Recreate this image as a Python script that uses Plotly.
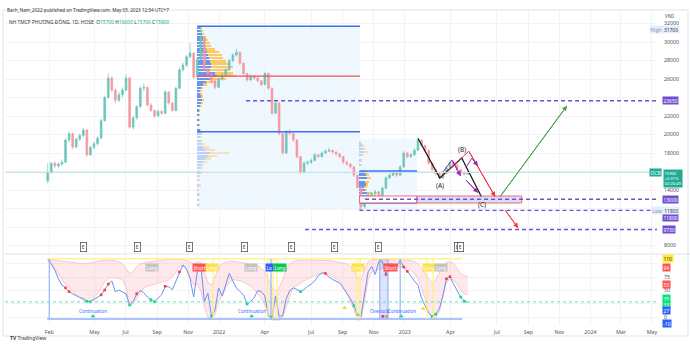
import pandas as pd
import numpy as np
import plotly.graph_objects as go

# ---------------- weekly OHLC, OCB (HOSE), VND ----------------
week_start = "2021-01-29"
week_open = [15000, 15900, 16900, 16600, 16800, 17000, 19400, 20100, 18650, 19500,
             19900, 20500, 17800, 18600, 19000, 19600, 21500, 24000, 26100, 24800,
             23700, 24300, 24800, 26100, 20800, 21800, 23000, 25000, 25100, 23200,
             22600, 22000, 22500, 22300, 24600, 23400, 22600, 25000, 27000, 27500,
             28400, 28800, 26200, 28100, 30500, 27000, 26500, 25800, 25100, 26000,
             26400, 27000, 28000, 28600, 28900, 27700, 26600, 25900, 26300, 26100,
             25800, 25400, 26600, 25000, 22300, 23400, 20100, 18000, 20300, 20100,
             19400, 17600, 15900, 16900, 17000, 17200, 17800, 17600, 18000, 18200,
             18300, 18100, 17900, 17600, 17000, 16800, 16500, 15600, 14300, 12200,
             12900, 13500, 13600, 13800, 13100, 14200, 15300, 15600, 15900, 15600,
             16500, 18000, 17600, 17800, 18300, 19400, 18800, 18300, 16900, 16200,
             15800, 15300, 15800, 16400, 17000, 16700, 16200, 15800, 15700]
week_high = [16900, 17000, 17100, 17000, 17300, 19600, 20300, 20200, 19700, 20100,
             20700, 20500, 18800, 19200, 19800, 21700, 24200, 26600, 26300, 25000,
             24600, 25100, 26500, 26200, 22000, 23200, 25200, 25500, 25200, 23400,
             22700, 22700, 22600, 24800, 24700, 23500, 25200, 27200, 27800, 28600,
             29900, 28900, 28300, 31700, 30600, 27400, 26700, 26000, 26200, 26600,
             27200, 28200, 28800, 29300, 29000, 27800, 26700, 26500, 26400, 26200,
             25900, 26800, 26700, 25100, 23600, 23500, 20200, 20500, 20600, 20200,
             19500, 17700, 17100, 17200, 17400, 18000, 17900, 18200, 18400, 18600,
             18400, 18200, 18000, 17700, 17200, 16900, 16600, 15700, 14400, 13100,
             13700, 13800, 14000, 13900, 14400, 15500, 15800, 16100, 16000, 16700,
             18200, 18100, 18000, 18500, 19600, 19500, 18900, 18400, 17000, 16300,
             15900, 16000, 16600, 17200, 17100, 16800, 16300, 15900, 16000]
week_low = [14700, 15700, 16400, 16300, 16600, 17000, 19100, 18400, 18500, 19300,
            19700, 17600, 17700, 18400, 18800, 19500, 21400, 23900, 24500, 23400,
            23500, 24000, 24700, 20600, 20500, 21600, 22900, 24700, 23000, 22400,
            21800, 21900, 22100, 22200, 23200, 22400, 22500, 24900, 26800, 27300,
            28200, 26000, 26100, 28000, 26800, 26200, 25500, 24900, 25000, 25800,
            26200, 26900, 27800, 28400, 27500, 26400, 25700, 25800, 25900, 25600,
            25200, 25300, 24800, 22100, 22200, 19900, 17800, 17900, 19900, 19200,
            17400, 15700, 15800, 16700, 16800, 17100, 17400, 17500, 17900, 18100,
            17900, 17700, 17400, 16800, 16600, 16300, 15400, 14100, 11800, 12000,
            12800, 13300, 13400, 12900, 13000, 14100, 15200, 15500, 15400, 15500,
            16400, 17400, 17500, 17700, 18200, 18600, 18100, 16700, 16000, 15600,
            15200, 15200, 15700, 16300, 16500, 16100, 15700, 15600, 15700]
week_close = [15900, 16900, 16600, 16800, 17000, 19400, 20100, 18650, 19500, 19900,
              20500, 17800, 18600, 19000, 19600, 21500, 24000, 26100, 24800, 23700,
              24300, 24800, 26100, 20800, 21800, 23000, 25000, 25100, 23200, 22600,
              22000, 22500, 22300, 24600, 23400, 22600, 25000, 27000, 27500, 28400,
              28800, 26200, 28100, 30500, 27000, 26500, 25800, 25100, 26000, 26400,
              27000, 28000, 28600, 28900, 27700, 26600, 25900, 26300, 26100, 25800,
              25400, 26600, 25000, 22300, 23400, 20100, 18000, 20300, 20100, 19400,
              17600, 15900, 16900, 17000, 17200, 17800, 17600, 18000, 18200, 18300,
              18100, 17900, 17600, 17000, 16800, 16500, 15600, 14300, 12200, 12900,
              13500, 13600, 13800, 13100, 14200, 15300, 15600, 15900, 15600, 16500,
              18000, 17600, 17800, 18300, 19400, 18800, 18300, 16900, 16200, 15800,
              15300, 15800, 16400, 17000, 16700, 16200, 15800, 15700, 15900]
weeks = pd.date_range(week_start, periods=len(week_close), freq="7D")

last_close = 15900
price_ticks = [32000, 30000, 28000, 26000, 24000, 22000, 20000, 18000, 16000, 14000, 12000, 10000, 8000]
price_tick_text = ["32000", "30000", "28000", "26000", "", "22000", "20000", "18000", "", "14000", "", "", "8000"]

# ---------------- oscillator pane ----------------
osc = [110, 100, 88, 72, 60, 55, 48, 44, 40, 37,
       35, 30, 29, 33, 37, 42, 51, 62, 68, 48,
       51, 48, 44, 23, 30, 44, 50, 46, 38, 33,
       29, 36, 42, 58, 57, 52, 68, 85, 98, 90,
       72, 38, 85, 98, 30, 45, 2, 14, 55, 40,
       60, 82, 68, 55, 48, 42, 25, 30, 37, 50,
       48, 40, 2, 1, 40, 2, 3, 35, 50, 55,
       52, 48, 52, 58, 62, 68, 78, 83, 82, 75,
       71, 68, 64, 55, 45, 35, 22, 5, 2, 40,
       85, 95, 80, 104, 105, 80, 100, 99, 94, 106,
       94, 86, 76, 68, 60, 36, 22, 8, 2, 6,
       16, 40, 72, 76, 62, 50, 38, 30, 28]
band_lower = [104, 104, 90, 80, 70, 62, 55, 48, 42, 37,
              32, 29, 30, 36, 45, 55, 66, 73, 74, 74,
              73, 70, 55, 22, 25, 35, 45, 55, 58, 60,
              62, 64, 66, 68, 70, 75, 85, 95, 96, 90,
              75, 60, 62, 50, 20, 0, -5, 5, 30, 39,
              55, 65, 70, 70, 68, 66, 62, 58, 52, 45,
              35, 25, 5, -5, -5, -5, 0, 20, 40, 55,
              60, 64, 68, 72, 75, 78, 80, 82, 82, 80,
              76, 72, 66, 58, 45, 30, 15, -5, -5, 30,
              70, 85, 88, 90, 92, 92, 93, 94, 94, 95,
              94, 92, 88, 82, 72, 55, 35, 10, -3, 0,
              10, 40, 65, 72, 70, 62, 50, 44, 42]
band_upper = [108, 108, 107, 106, 105, 104, 103, 102, 101, 100,
              100, 100, 101, 103, 105, 106, 107, 107, 107, 106,
              104, 100, 90, 82, 85, 95, 100, 102, 103, 104,
              105, 106, 106, 107, 108, 108, 108, 108, 108, 106,
              103, 100, 104, 102, 85, 65, 60, 75, 95, 100,
              103, 105, 105, 104, 102, 101, 100, 99, 98, 97,
              92, 85, 70, 55, 50, 55, 70, 90, 100, 104,
              106, 107, 107, 107, 107, 107, 107, 107, 107, 106,
              105, 104, 103, 102, 100, 96, 88, 75, 70, 90,
              104, 108, 108, 108, 108, 108, 108, 108, 108, 108,
              108, 107, 106, 104, 100, 92, 82, 72, 65, 70,
              82, 96, 103, 104, 100, 92, 82, 78, 76]
sell_dot_weeks = [5, 6, 15, 16, 17, 25, 33, 37, 78, 95, 100, 101, 112, 113]
buy_dot_weeks = [11, 12, 23, 29, 30, 46, 56, 63, 71, 86, 87, 108, 109, 116, 117]
osc_top, osc_bottom, osc_signal = 109, -3, 29
long_line_dates = ["2021-12-20", "2022-04-07", "2022-04-17", "2022-04-25",
                   "2022-09-29", "2022-10-05", "2023-02-14", "2023-02-26"]
blue_line_dates = ["2021-02-01", "2022-04-13", "2022-11-13", "2022-11-29", "2022-12-23"]
osc_span = ["2021-01-28", "2023-04-24"]
signal_tags = [("2021-08-22", "Long", "#c4c4c4", "#ffffff"),
               ("2021-11-23", "Short", "#ff5252", "#ffffff"),
               ("2021-12-18", "Long", "#ffe14d", "#ffffff"),
               ("2022-03-05", "Long", "#c4c4c4", "#ffffff"),
               ("2022-04-11", "Lo", "#2962ff", "#ffffff"),
               ("2022-04-30", "Long", "#00c853", "#ffffff"),
               ("2022-10-01", "Long", "#ffe14d", "#ffffff"),
               ("2022-12-03", "Short", "#ff5252", "#ffffff"),
               ("2023-02-18", "Long", "#ffe14d", "#ffffff"),
               ("2023-03-14", "Long", "#c4c4c4", "#ffffff")]
pattern_text = [("2021-04-28", "Continuation"), ("2022-03-06", "Continuation"),
                ("2022-11-13", "Oversold"), ("2022-12-27", "Continuation")]
green_tri = ["2021-04-28", "2022-03-06", "2022-12-25"]
yellow_tri = [("2022-09-05", 18), ("2023-02-06", 16)]
oversold_dots = [("2022-11-19", "#ff1744"), ("2022-11-26", "#ff9800")]
osc_scale_tags = [(110, "110", "#ffeb3b", "#333333"), (94, "94", "#ff5252", "#ffffff"),
                  (62, "50", "#ff5252", "#ffffff"), (35, "35", "#00e676", "#ffffff"),
                  (23.5, "33", "#00e676", "#ffffff"), (12, "27", "#2962ff", "#ffffff"),
                  (-11, "-10", "#2962ff", "#ffffff")]

# ---------------- volume profiles ----------------
vp1_range = ["2021-11-19", "2022-10-05"]
vp1_prices = [31500, 31200, 30900, 30500, 30200, 29900, 29600, 29200, 28900, 28600,
              28300, 27900, 27600, 27300, 27000, 26600, 26300, 26000, 25700, 25400,
              25000, 24700, 24400, 24100, 23700, 23400, 23100, 22600, 22100, 21600,
              21000, 20500, 20100, 19700, 19300, 19000, 18600, 18300, 18000, 17700,
              17400, 17000, 16700, 16400, 15900, 15500, 15100, 14500, 14000, 13500,
              12900, 12400]
vp1_up = [3, 4, 5, 6, 7, 8, 9, 10, 11, 12,
          13, 14, 15, 16, 14, 20, 22, 16, 10, 6,
          4, 3, 3, 4, 5, 4, 3, 2, 2, 2,
          2, 3, 4, 3, 4, 5, 7, 10, 14, 12,
          9, 7, 5, 4, 3, 2, 2, 2, 1, 2,
          2, 2]
vp1_down = [2, 3, 3, 4, 5, 6, 7, 10, 14, 16,
            16, 18, 22, 24, 22, 20, 21, 16, 10, 5,
            3, 2, 2, 3, 3, 2, 2, 1, 1, 1,
            1, 1, 2, 2, 3, 4, 6, 10, 22, 10,
            6, 4, 3, 2, 2, 1, 1, 2, 1, 1,
            2, 1]
vp1_edges = [31700, 20300]
vp1_box = [11800, 31700]
vp2_range = ["2022-10-04", "2023-01-25"]
vp2_prices = [19100, 18800, 18400, 18100, 17800, 17200, 16700, 15900, 15600, 15300,
              14900, 14600, 14300, 14000, 13700, 13300, 13000, 12700, 12400, 12000]
vp2_up = [2, 3, 4, 5, 3, 2, 2, 6, 7, 8, 6, 7, 5, 6, 8, 10, 9, 6, 3, 2]
vp2_down = [1, 2, 3, 5, 2, 1, 1, 4, 4, 5, 5, 3, 4, 3, 6, 8, 6, 4, 2, 1]
vp2_edges = [16050, 12600]
vp2_box = [11800, 19500]
vp_days_per_unit = 1.75

# ---------------- levels and wave drawing ----------------
levels = [("2022-02-23", 23650), ("2022-10-15", 13000), ("2022-10-04", 11800), ("2022-06-19", 9730)]
zone = [12600, 13350]
zone_dates = ["2022-10-04", "2023-01-25", "2023-08-19"]
abc_dates = ["2023-01-27", "2023-03-11", "2023-04-23", "2023-06-01"]
abc_prices = [19600, 15300, 17460, 13240]
red_dates = ["2023-03-13", "2023-05-07", "2023-06-28"]
red_prices = [15300, 18200, 13250]
drop_dates = ["2023-07-17", "2023-08-12"]
drop_prices = [11850, 9900]
rise_dates = ["2023-07-07", "2023-11-16"]
rise_prices = [13250, 23100]
sub_waves = [(["2023-03-17", "2023-04-04", "2023-04-21"], [15950, 17250, 15500]),
             (["2023-05-01", "2023-05-13", "2023-05-25"], [16400, 17450, 16600]),
             (["2023-05-01", "2023-05-25"], [15100, 13700])]
wave_labels = [("2023-03-11", 14540, "(A)"), ("2023-04-23", 18330, "(B)"), ("2023-06-01", 12480, "(C)")]
earnings_dates = ["2021-04-09", "2021-07-25", "2021-11-03", "2022-02-19", "2022-05-24",
                  "2022-08-15", "2022-11-11", "2023-04-15", "2023-04-21"]

x_ticks = ["2021-02-01", "2021-05-01", "2021-07-01", "2021-09-01", "2021-11-01", "2022-01-01",
           "2022-04-01", "2022-07-01", "2022-09-01", "2022-11-01", "2023-01-01", "2023-04-01",
           "2023-07-01", "2023-09-01", "2023-11-01", "2024-01-01", "2024-03-01", "2024-05-01"]
x_tick_text = ["Feb", "May", "Jul", "Sep", "Nov", "2022", "Apr", "Jul", "Sep", "Nov", "2023",
               "Apr", "Jul", "Sep", "Nov", "2024", "Mar", "May"]
x_range = ["2020-11-06", "2024-05-11"]

# ---------------- styles ----------------
FONT = "Noto Sans"
UP, DOWN = "#6cc6b9", "#f39aa0"
PURPLE = "#6f4fd0"
VP_BLUE, VP_ORANGE = "rgba(72,120,240,0.8)", "rgba(255,190,60,0.8)"
VP_BLUE_FADED, VP_ORANGE_FADED = "rgba(72,120,240,0.3)", "rgba(255,190,60,0.35)"
BOX_FILL = "rgba(33,150,243,0.07)"
LINE_BLUE = "#3d6ff2"
GRID = "#f1f3f8"
TXT = "#50535e"

W, H = 690, 350
ML, MR, MT, MB = 5, 33, 10, 25
PW, PH = W - ML - MR, H - MT - MB


def px_x(px):
    return (px - ML) / PW


def px_y(py):
    return (H - MB - py) / PH


fig = go.Figure()

# volume profile boxes
shapes = []
for rng, box in ((vp1_range, vp1_box), (vp2_range, vp2_box)):
    shapes.append(dict(type="rect", xref="x", yref="y", x0=rng[0], x1=rng[1], y0=box[0], y1=box[1],
                       fillcolor=BOX_FILL, line=dict(width=0), layer="below"))

# volume profile histograms (stacked up / down volume, value area stronger)
ms_per_unit = vp_days_per_unit * 86400000
for rng, prices, up, down, edges in ((vp1_range, vp1_prices, vp1_up, vp1_down, vp1_edges),
                                     (vp2_range, vp2_prices, vp2_up, vp2_down, vp2_edges)):
    start = pd.Timestamp(rng[0])
    up_len = np.array(up) * ms_per_unit
    dn_len = np.array(down) * ms_per_unit
    inside = [min(edges) <= p <= max(edges) for p in prices]
    fig.add_trace(go.Bar(y=prices, x=up_len, base=[start] * len(prices), orientation="h",
                         width=250, marker=dict(color=[VP_BLUE if k else VP_BLUE_FADED for k in inside],
                                                line=dict(width=0)),
                         yaxis="y", hoverinfo="skip"))
    fig.add_trace(go.Bar(y=prices, x=dn_len, base=[start + pd.Timedelta(milliseconds=float(u)) for u in up_len],
                         orientation="h", width=250,
                         marker=dict(color=[VP_ORANGE if k else VP_ORANGE_FADED for k in inside],
                                     line=dict(width=0)),
                         yaxis="y", hoverinfo="skip"))

# value-area / POC lines
poc1 = vp1_prices[int(np.argmax(np.array(vp1_up) + np.array(vp1_down)))]
for lvl in vp1_edges:
    shapes.append(dict(type="line", xref="x", yref="y", x0=vp1_range[0], x1=vp1_range[1], y0=lvl, y1=lvl,
                       line=dict(color=LINE_BLUE, width=1.6)))
shapes.append(dict(type="line", xref="x", yref="y", x0=vp1_range[0], x1=vp1_range[1], y0=poc1, y1=poc1,
                   line=dict(color="#f0544f", width=1.2)))
for lvl in vp2_edges:
    shapes.append(dict(type="line", xref="x", yref="y", x0=vp2_range[0], x1=vp2_range[1], y0=lvl, y1=lvl,
                       line=dict(color=LINE_BLUE, width=1.6)))

# last price line
shapes.append(dict(type="line", xref="paper", yref="y", x0=0, x1=1, y0=last_close, y1=last_close,
                   line=dict(color="#bfe3de", width=1)))

# candles
fig.add_trace(go.Candlestick(x=weeks, open=week_open, high=week_high, low=week_low, close=week_close,
                             increasing=dict(line=dict(color=UP, width=0.7), fillcolor=UP),
                             decreasing=dict(line=dict(color=DOWN, width=0.7), fillcolor=DOWN),
                             whiskerwidth=0, yaxis="y", hoverinfo="skip"))

# demand zone
shapes.append(dict(type="rect", xref="x", yref="y", x0=zone_dates[0], x1=zone_dates[1], y0=zone[0], y1=zone[1],
                   fillcolor="rgba(255,255,255,0.9)", line=dict(color="#f06a78", width=1)))
shapes.append(dict(type="rect", xref="x", yref="y", x0=zone_dates[1], x1=zone_dates[2], y0=zone[0], y1=zone[1],
                   fillcolor="rgba(120,140,240,0.28)", line=dict(color="#f06a78", width=1)))

# horizontal key levels
for d0, lvl in levels:
    shapes.append(dict(type="line", xref="x", yref="y", x0=d0, x1=x_range[1], y0=lvl, y1=lvl,
                       line=dict(color=PURPLE, width=1.3, dash="4px,3px")))

# wave drawing
fig.add_trace(go.Scatter(x=abc_dates, y=abc_prices, mode="lines", line=dict(color="#111111", width=1.2),
                         yaxis="y", hoverinfo="skip"))
for dts, prs, col in ((red_dates, red_prices, "#f23645"), (drop_dates, drop_prices, "#f23645"),
                      (rise_dates, rise_prices, "#43a047")):
    fig.add_trace(go.Scatter(x=dts, y=prs, mode="lines", line=dict(color=col, width=1),
                             yaxis="y", hoverinfo="skip"))
for dts, prs in sub_waves:
    fig.add_trace(go.Scatter(x=dts, y=prs, mode="lines", line=dict(color="#9c27b0", width=1),
                             yaxis="y", hoverinfo="skip"))

annotations = []
arrow_sets = [(red_dates, red_prices, "#f23645"), (drop_dates, drop_prices, "#f23645"),
              (rise_dates, rise_prices, "#43a047")] + [(d, p, "#9c27b0") for d, p in sub_waves]
for dts, prs, col in arrow_sets:
    annotations.append(dict(x=dts[-1], y=prs[-1], ax=dts[-2], ay=prs[-2], xref="x", yref="y",
                            axref="x", ayref="y", text="", showarrow=True, arrowhead=2,
                            arrowsize=1, arrowwidth=1, arrowcolor=col))
for d, p, t in wave_labels:
    annotations.append(dict(x=d, y=p, xref="x", yref="y", text=t, showarrow=False,
                            font=dict(size=6.5, color="#222", family=FONT)))

# earnings markers
for d in earnings_dates:
    annotations.append(dict(x=d, y=7840, xref="x", yref="y", text="E", showarrow=False,
                            font=dict(size=5, color="#444", family=FONT), bgcolor="#ffffff",
                            bordercolor="#555", borderwidth=0.8, borderpad=1))

# ---------------- oscillator pane ----------------
fig.add_trace(go.Scatter(x=weeks, y=band_upper, mode="lines", line=dict(color="#fbbcc1", width=0.8),
                         yaxis="y2", hoverinfo="skip"))
fig.add_trace(go.Scatter(x=weeks, y=band_lower, mode="lines", line=dict(color="#fbbcc1", width=0.8),
                         fill="tonexty", fillcolor="rgba(250,180,188,0.3)", yaxis="y2", hoverinfo="skip"))
fig.add_trace(go.Scatter(x=weeks, y=osc, mode="lines", line=dict(color="#6b92f5", width=1),
                         yaxis="y2", hoverinfo="skip"))
fig.add_trace(go.Scatter(x=weeks[sell_dot_weeks], y=[osc[i] for i in sell_dot_weeks], mode="markers",
                         marker=dict(color="#ff3b3b", size=2.6, symbol="square"), yaxis="y2", hoverinfo="skip"))
fig.add_trace(go.Scatter(x=weeks[buy_dot_weeks], y=[osc[i] for i in buy_dot_weeks], mode="markers",
                         marker=dict(color="#00e08a", size=2.6, symbol="square"), yaxis="y2", hoverinfo="skip"))
fig.add_trace(go.Scatter(x=green_tri, y=[2] * len(green_tri), mode="markers",
                         marker=dict(color="#00d084", size=4, symbol="triangle-up"), yaxis="y2", hoverinfo="skip"))
fig.add_trace(go.Scatter(x=[d for d, _ in yellow_tri], y=[v for _, v in yellow_tri], mode="markers",
                         marker=dict(color="#ffd600", size=4, symbol="triangle-up"), yaxis="y2", hoverinfo="skip"))
fig.add_trace(go.Scatter(x=[d for d, _ in oversold_dots], y=[2, 2], mode="markers",
                         marker=dict(color=[c for _, c in oversold_dots], size=3), yaxis="y2", hoverinfo="skip"))

shapes.append(dict(type="line", xref="x", yref="y2", x0=osc_span[0], x1=osc_span[1], y0=osc_top, y1=osc_top,
                   line=dict(color="#fff176", width=1.2)))
shapes.append(dict(type="line", xref="x", yref="y2", x0=osc_span[0], x1=osc_span[1], y0=osc_bottom, y1=osc_bottom,
                   line=dict(color="#8fb0fa", width=1.6)))
for d in long_line_dates:
    shapes.append(dict(type="line", xref="x", yref="y2", x0=d, x1=d, y0=osc_bottom, y1=osc_top,
                       line=dict(color="#fff176", width=1.1)))
for d in blue_line_dates:
    shapes.append(dict(type="line", xref="x", yref="y2", x0=d, x1=d, y0=osc_bottom, y1=osc_top,
                       line=dict(color="#8fb0fa", width=1.1)))
shapes.append(dict(type="rect", xref="x", yref="y2", x0=blue_line_dates[2], x1=blue_line_dates[3],
                   y0=osc_bottom, y1=osc_top, fillcolor="rgba(120,150,250,0.25)", line=dict(width=0)))
shapes.append(dict(type="line", xref="paper", yref="y2", x0=0, x1=1, y0=osc_signal, y1=osc_signal,
                   line=dict(color="#5fe3b5", width=1, dash="dot")))

for d, t, bg, fg in signal_tags:
    annotations.append(dict(x=d, y=94, xref="x", yref="y2", text=t, showarrow=False,
                            font=dict(size=4.6, color=fg, family=FONT), bgcolor=bg, borderpad=0.6))
for d, t in pattern_text:
    annotations.append(dict(x=d, y=12, xref="x", yref="y2", text=t, showarrow=False,
                            font=dict(size=4.6, color="#3d6ef5", family=FONT)))

# pane separator and outer frame
shapes.append(dict(type="line", xref="paper", yref="paper", x0=0, x1=px_x(W), y0=px_y(254), y1=px_y(254),
                   line=dict(color="#e0e3eb", width=1)))
shapes.append(dict(type="rect", xref="paper", yref="paper", x0=px_x(3), x1=px_x(688), y0=px_y(336), y1=px_y(10),
                   line=dict(color="#e0e3eb", width=1)))

# ---------------- header / legend text ----------------
annotations.append(dict(x=px_x(5), y=px_y(5), xref="paper", yref="paper", xanchor="left", showarrow=False,
                        text="Bach_Nam_2022 published on TradingView.com, May 05, 2023 12:54 UTC+7",
                        font=dict(size=4.6, color="#333", family=FONT)))
ohlc = "O<span style='color:#22ab94'>15700</span> H<span style='color:#22ab94'>16000</span> " \
       "L<span style='color:#22ab94'>15700</span> C<span style='color:#22ab94'>15900</span>"
annotations.append(dict(x=px_x(7), y=px_y(16), xref="paper", yref="paper", xanchor="left", showarrow=False,
                        text="NH TMCP PHƯƠNG ĐÔNG, 1D, HOSE  " + ohlc,
                        font=dict(size=4.9, color="#333", family=FONT)))
annotations.append(dict(x=px_x(8), y=px_y(343), xref="paper", yref="paper", xanchor="left", showarrow=False,
                        text="<b>TV</b> TradingView", font=dict(size=5, color="#333", family=FONT)))
annotations.append(dict(x=px_x(664), y=px_y(12), xref="paper", yref="paper", xanchor="left", showarrow=False,
                        text="VND", font=dict(size=4.4, color=TXT, family=FONT), borderpad=0))


# right-scale price tags
def tag(y, text, bg, fg="#ffffff", yref="y", x=662, yshift=0):
    annotations.append(dict(x=px_x(x), y=y, xref="paper", yref=yref, xanchor="left", showarrow=False,
                            text=text, bgcolor=bg, font=dict(size=4.9, color=fg, family=FONT),
                            borderpad=0.5, yshift=yshift))


for _, lvl in levels:
    tag(lvl, f"{lvl}", PURPLE, yshift=-7 if lvl == 11800 else 0)
tag(max(week_high), "<span style='color:#8a8d99'>High</span>  " + f"{max(week_high)}", "#e3effd", "#3a3d48",
    x=649, yshift=-3)
tag(min(week_low), "<span style='color:#8a8d99'>Low</span>  " + f"{min(week_low)}", "#e3effd", "#3a3d48", x=651)
tag(last_close, "OCB", "#22ab94", x=649)
annotations.append(dict(x=px_x(663), y=last_close, xref="paper", yref="y", xanchor="left", yanchor="top",
                        yshift=3.5, showarrow=False, align="left",
                        text=f"{last_close}<br>+0.31%<br>02:20:49", bgcolor="#22ab94",
                        font=dict(size=4.1, color="#ffffff", family=FONT), borderpad=0.5))

# oscillator scale tags
for v, t, bg, fg in osc_scale_tags:
    tag(v, t, bg, fg, yref="y2")

fig.update_layout(
    width=W, height=H, margin=dict(l=ML, r=MR, t=MT, b=MB),
    paper_bgcolor="#ffffff", plot_bgcolor="#ffffff",
    showlegend=False, hovermode=False, dragmode=False, barmode="overlay", bargap=0,
    font=dict(family=FONT, size=5.5, color=TXT),
    shapes=shapes, annotations=annotations,
    xaxis=dict(type="date", range=x_range, anchor="y2", tickvals=x_ticks, ticktext=x_tick_text,
               showgrid=True, gridcolor=GRID, gridwidth=1, showline=False, zeroline=False,
               ticks="", tickfont=dict(size=5.3, color=TXT), rangeslider=dict(visible=False),
               ticklabelstandoff=3),
    yaxis=dict(domain=[px_y(253), 1], range=[7190, 33459], side="right", tickvals=price_ticks,
               ticktext=price_tick_text, showgrid=True, gridcolor=GRID, zeroline=False, ticks="",
               tickfont=dict(size=5.3, color=TXT), ticklabelstandoff=6),
    yaxis2=dict(domain=[0, px_y(255)], range=[-14.2, 116.4], side="right", tickvals=[0, 25, 50, 75, 100],
                ticktext=["0", "", "50", "75", ""], showgrid=True, gridcolor=GRID, zeroline=False, ticks="",
                tickfont=dict(size=5.3, color=TXT), ticklabelstandoff=6),
)

fig.write_html("out.html")
